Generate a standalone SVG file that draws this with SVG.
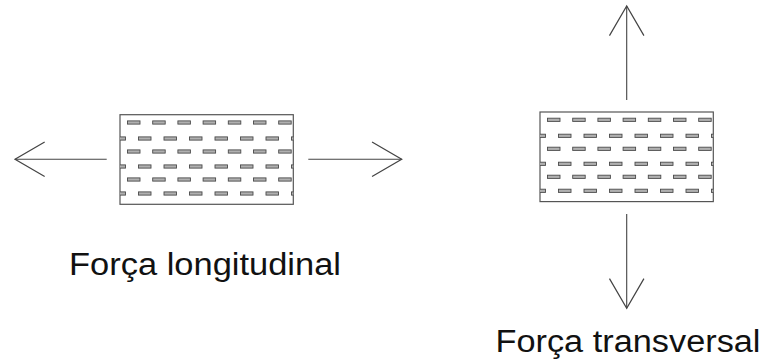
<svg xmlns="http://www.w3.org/2000/svg" xmlns:xlink="http://www.w3.org/1999/xlink" width="766" height="363" viewBox="0 0 766 363">
  <style>
    .box { fill: #ffffff; stroke: #555555; stroke-width: 1.2; }
    .dash { fill: #b0b0b0; stroke: #4a4a4a; stroke-width: 0.9; }
    .conn { fill: none; stroke: #444444; stroke-width: 1.1; }
    .label { font-family: "Liberation Sans", Arial, sans-serif; font-size: 31px; fill: #111111; }
  </style>
  <defs>
    <marker id="open" markerUnits="userSpaceOnUse" markerWidth="40" markerHeight="40" viewBox="-30 -18 34 36" refX="0" refY="0" orient="auto">
      <path d="M-26.7,-15.5 L0,0 L-26.7,15.5" fill="none" stroke="#444444" stroke-width="1.1"/>
    </marker>
    <clipPath id="clipL">
      <rect x="120" y="114.7" width="173.3" height="89.6"/>
    </clipPath>
    <g id="oddrow">
      <rect class="dash" x="127.5" y="-1.6" width="12.5" height="3.2"/>
      <rect class="dash" x="152.7" y="-1.6" width="12.5" height="3.2"/>
      <rect class="dash" x="177.9" y="-1.6" width="12.5" height="3.2"/>
      <rect class="dash" x="203.1" y="-1.6" width="12.5" height="3.2"/>
      <rect class="dash" x="228.3" y="-1.6" width="12.5" height="3.2"/>
      <rect class="dash" x="253.5" y="-1.6" width="12.5" height="3.2"/>
      <rect class="dash" x="278.7" y="-1.6" width="12.5" height="3.2"/>
    </g>
    <g id="evenrow">
      <rect class="dash" x="113" y="-1.6" width="12.5" height="3.2"/>
      <rect class="dash" x="138.5" y="-1.6" width="12.5" height="3.2"/>
      <rect class="dash" x="164" y="-1.6" width="12.5" height="3.2"/>
      <rect class="dash" x="189.5" y="-1.6" width="12.5" height="3.2"/>
      <rect class="dash" x="215" y="-1.6" width="12.5" height="3.2"/>
      <rect class="dash" x="240.5" y="-1.6" width="12.5" height="3.2"/>
      <rect class="dash" x="266" y="-1.6" width="12.5" height="3.2"/>
      <rect class="dash" x="291.5" y="-1.6" width="12.5" height="3.2"/>
    </g>
  </defs>

  <g id="node-longitudinal">
    <rect class="box" x="120" y="114.7" width="173.3" height="89.6"/>
    <g clip-path="url(#clipL)">
      <use xlink:href="#oddrow" y="122.5"/>
      <use xlink:href="#evenrow" y="138.5"/>
      <use xlink:href="#oddrow" y="151.5"/>
      <use xlink:href="#evenrow" y="166.5"/>
      <use xlink:href="#oddrow" y="179.5"/>
      <use xlink:href="#evenrow" y="193.5"/>
    </g>
  </g>

  <g id="node-transversal" transform="translate(420,-2.7)">
    <rect class="box" x="120" y="114.7" width="173.3" height="89.6"/>
    <g clip-path="url(#clipL)">
      <use xlink:href="#oddrow" y="122.5"/>
      <use xlink:href="#evenrow" y="138.5"/>
      <use xlink:href="#oddrow" y="151.5"/>
      <use xlink:href="#evenrow" y="166.5"/>
      <use xlink:href="#oddrow" y="179.5"/>
      <use xlink:href="#evenrow" y="193.5"/>
    </g>
  </g>

  <g id="connectors">
    <line class="conn" x1="106.7" y1="159.3" x2="15" y2="159.3" marker-end="url(#open)"/>
    <line class="conn" x1="308.3" y1="159.3" x2="401.7" y2="159.3" marker-end="url(#open)"/>
    <line class="conn" x1="626.7" y1="100" x2="626.7" y2="6" marker-end="url(#open)"/>
    <line class="conn" x1="626.7" y1="214" x2="626.7" y2="308.3" marker-end="url(#open)"/>
  </g>

  <g id="label-longitudinal">
    <text class="label" x="69" y="275" textLength="272" lengthAdjust="spacingAndGlyphs">Força longitudinal</text>
  </g>
  <g id="label-transversal">
    <text class="label" x="495.5" y="351.7" textLength="265" lengthAdjust="spacingAndGlyphs">Força transversal</text>
  </g>
</svg>
